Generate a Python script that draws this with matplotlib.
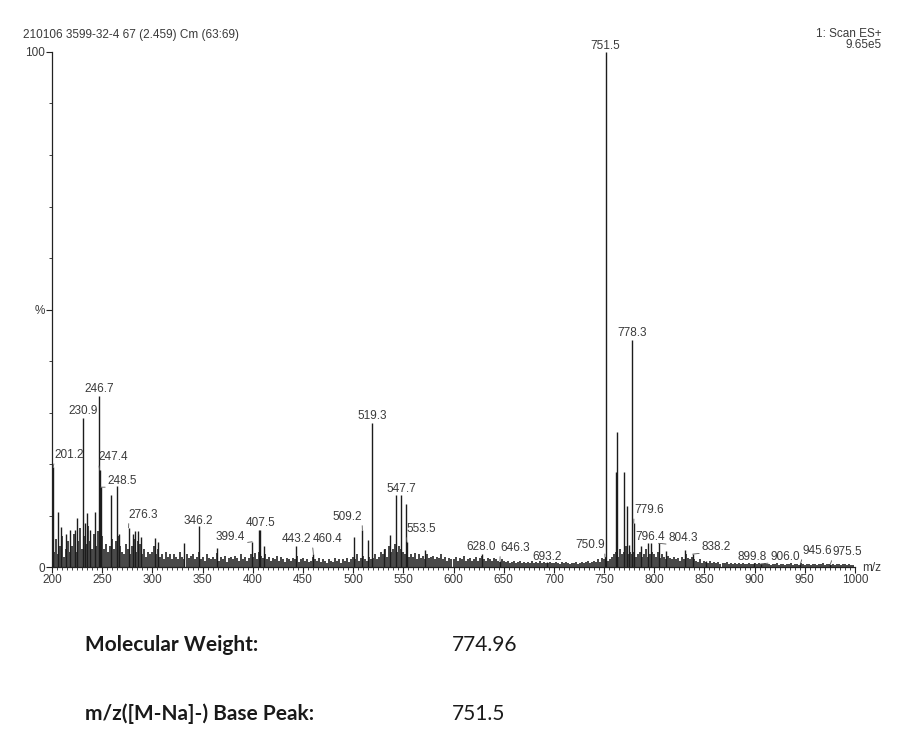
import numpy as np
import matplotlib.pyplot as plt

# background noise, one value every 2 m/z from 200 (percent of base peak)
noise_int = [
    4.5, 3.0, 5.5, 2.5, 4.0, 6.0, 2.0, 3.5, 5.0, 3.0,
    4.0, 6.5, 3.0, 5.0, 7.5, 3.5, 6.0, 4.5, 8.0, 5.0,
    3.5, 6.5, 4.0, 7.0, 5.0, 6.0, 3.5, 4.5, 3.0, 4.0,
    5.5, 3.5, 5.0, 6.0, 4.0, 3.0, 2.5, 4.5, 3.5, 2.5,
    4.0, 5.5, 3.0, 5.0, 4.5, 2.5, 3.5, 2.0, 3.0, 2.5,
    3.0, 4.0, 2.5, 3.5, 2.0, 2.5, 1.5, 3.0, 2.0, 2.5,
    1.5, 2.5, 2.0, 1.5, 3.0, 2.0, 1.5, 2.5, 1.8, 2.2,
    2.5, 1.5, 2.0, 3.0, 1.5, 2.0, 1.2, 2.5, 1.8, 1.5,
    2.0, 1.5, 2.8, 1.2, 2.0, 1.5, 2.2, 1.0, 1.8, 2.0,
    1.5, 2.2, 1.8, 1.2, 2.5, 1.5, 2.0, 1.2, 1.8, 2.5,
    2.0, 2.8, 1.5, 3.0, 2.2, 1.8, 2.5, 1.5, 2.0, 1.2,
    1.8, 1.5, 2.2, 1.2, 2.0, 1.5, 1.0, 1.8, 1.5, 1.2,
    1.8, 1.5, 2.2, 1.0, 1.5, 1.8, 1.2, 1.5, 1.0, 1.2,
    2.0, 1.5, 1.2, 1.8, 1.0, 1.5, 1.2, 0.8, 1.5, 1.2,
    1.0, 1.8, 1.2, 1.5, 0.8, 1.5, 1.2, 1.8, 1.0, 1.5,
    2.0, 1.5, 2.5, 1.2, 1.8, 2.2, 1.5, 1.2, 2.0, 1.5,
    1.8, 2.5, 1.5, 2.0, 3.0, 2.5, 3.5, 2.0, 4.0, 3.0,
    3.5, 4.5, 3.0, 4.0, 3.5, 3.0, 2.5, 3.5, 2.0, 2.5,
    2.0, 2.8, 1.5, 2.5, 1.8, 2.2, 1.5, 2.5, 1.8, 2.0,
    2.2, 1.5, 2.0, 1.8, 2.5, 1.5, 2.0, 1.2, 1.8, 1.5,
    1.5, 2.0, 1.2, 1.8, 1.5, 2.2, 1.2, 1.5, 1.8, 1.2,
    1.5, 2.0, 1.2, 1.8, 2.2, 1.5, 1.2, 1.8, 1.5, 1.2,
    1.8, 1.5, 1.2, 1.0, 1.5, 1.2, 1.0, 1.2, 0.8, 1.0,
    1.2, 0.8, 1.0, 1.2, 0.8, 1.0, 0.7, 1.0, 0.8, 1.2,
    0.8, 1.0, 0.7, 1.2, 0.8, 1.0, 0.8, 0.7, 1.0, 0.8,
    0.7, 1.0, 0.8, 0.6, 0.9, 0.7, 1.0, 0.8, 0.6, 0.8,
    0.7, 0.9, 0.6, 0.8, 1.0, 0.7, 0.9, 1.2, 0.8, 1.0,
    1.2, 0.9, 1.5, 1.0, 1.8, 1.5, 2.0, 1.2, 1.5, 2.0,
    2.5, 3.0, 2.0, 3.5, 2.5, 3.0, 4.0, 2.5, 3.0, 2.5,
    3.0, 2.0, 2.5, 3.0, 2.0, 2.5, 3.5, 2.0, 2.5, 3.0,
    2.5, 2.0, 3.0, 1.8, 2.5, 2.0, 1.5, 2.2, 1.8, 1.5,
    2.0, 1.5, 1.8, 1.2, 2.0, 1.5, 2.5, 1.8, 1.5, 2.0,
    1.5, 1.2, 1.0, 1.5, 0.8, 1.2, 1.0, 0.8, 1.2, 0.7,
    0.9, 0.7, 1.0, 0.6, 0.8, 0.7, 1.0, 0.6, 0.8, 0.5,
    0.7, 0.6, 0.8, 0.5, 0.7, 0.6, 0.5, 0.8, 0.6, 0.5,
    0.7, 0.5, 0.8, 0.6, 0.5, 0.7, 0.5, 0.6, 0.4, 0.6,
    0.5, 0.7, 0.4, 0.6, 0.5, 0.4, 0.6, 0.5, 0.7, 0.4,
    0.5, 0.6, 0.4, 0.7, 0.5, 0.4, 0.6, 0.5, 0.4, 0.6,
    0.5, 0.4, 0.6, 0.5, 0.7, 0.4, 0.5, 0.6, 0.4, 0.5,
    0.4, 0.6, 0.5, 0.4, 0.5, 0.6, 0.4, 0.5, 0.4, 0.3,
]
noise_mz = np.arange(200, 1000, 2)

# unlabelled peaks standing out of the noise
peak_mz = [206, 208.7, 214, 217.7, 222.7, 225, 233, 235, 237.7, 242.7,
           258.7, 264.5, 267, 281, 283, 286, 289, 303, 306, 332,
           364, 406, 411, 501, 514.4, 530.7, 536.6, 542.6, 552.6, 571.5,
           761.8, 762.6, 770, 772.4, 775, 787, 793.6, 812, 830.5, 851.4]
peak_int = [10.7, 7.8, 6.5, 7.2, 7.2, 9.5, 8.5, 10.4, 7.2, 10.7,
            14.0, 15.7, 6.5, 6.5, 6.9, 7.0, 5.9, 5.6, 4.9, 4.6,
            3.6, 7.2, 4.0, 5.8, 5.2, 3.4, 6.2, 14.0, 12.2, 3.3,
            18.4, 26.2, 18.4, 11.8, 4.3, 4.0, 4.6, 3.2, 3.3, 1.2]

# labelled peaks
label_text = ['201.2', '230.9', '246.7', '247.4', '248.5', '276.3', '346.2',
              '399.4', '407.5', '443.2', '460.4', '509.2', '519.3', '547.7',
              '553.5', '628.0', '646.3', '693.2', '750.9', '751.5', '778.3',
              '779.6', '796.4', '804.3', '838.2', '899.8', '906.0', '945.6',
              '975.5']
label_int = [19.4, 28.9, 33.2, 18.8, 15.5, 7.6, 8.0,
             4.9, 7.2, 4.0, 2.5, 7.2, 28.0, 14.0,
             4.9, 2.5, 1.2, 1.0, 1.9, 100.0, 44.1,
             8.5, 4.7, 4.6, 2.5, 0.8, 0.6, 0.6,
             0.6]

# label placement (pixels from peak top)
label_offsets = [(16, 12), (0, 7), (0, 7), (14, 13), (22, 6), (15, 13), (0, 5),
                 (-22, 5), (0, 7), (0, 7), (14, 15), (-15, 13), (0, 7), (0, 6),
                 (14, 13), (0, 7), (15, 13), (0, 5), (-15, 12), (0, 6), (0, 7),
                 (15, 13), (0, 6), (25, 5), (24, 7), (-2, 6), (25, 7), (17, 13),
                 (17, 12)]

txt = '#3a3a3a'
fs = 8.5
plt.rcParams['font.family'] = ['Liberation Sans', 'DejaVu Sans']

fig = plt.figure(figsize=(9.03, 7.41), dpi=100)
ax = fig.add_axes([52 / 903, 1 - 567 / 741, 803 / 903, 515 / 741])

ax.vlines(noise_mz, 0, noise_int, color='#1c1c1c', lw=1.15)
ax.vlines(peak_mz, 0, peak_int, color='#1c1c1c', lw=1.0)
label_mz = [float(s) for s in label_text]
ax.vlines(label_mz, 0, label_int, color='#1c1c1c', lw=1.0, clip_on=False)

for s, mz, h, (dx, dy) in zip(label_text, label_mz, label_int, label_offsets):
    lead = abs(dx) >= 10 or dy >= 10
    props = None
    if lead:
        props = dict(arrowstyle='-', lw=0.6, color='#555555', shrinkA=0, shrinkB=0,
                     relpos=(0, 0) if dx > 0 else (1, 0))
    ax.annotate(s, xy=(mz, h), xytext=(dx, dy), textcoords='offset pixels',
                ha='center', va='center', fontsize=fs, color=txt,
                arrowprops=props, annotation_clip=False)

ax.set_xlim(200, 1000)
ax.set_ylim(0, 100)
for side in ['top', 'right']:
    ax.spines[side].set_visible(False)
ax.spines['left'].set_color('#222222')
ax.spines['bottom'].set_color('#222222')
ax.spines['left'].set_linewidth(0.9)
ax.spines['bottom'].set_linewidth(0.9)

ax.set_xticks(np.arange(200, 1001, 50))
ax.set_xticks(np.arange(200, 1001, 5), minor=True)
ax.set_yticks([0, 50, 100], ['0', '%', '100'])
ax.set_yticks(np.arange(0, 101, 10), minor=True)
ax.tick_params(axis='both', which='major', labelsize=fs, labelcolor=txt,
               color='#222222', length=4, width=0.8, pad=1)
ax.tick_params(axis='both', which='minor', color='#222222', length=2.2, width=0.6)
fig.text(862 / 903, 1 - 568 / 741, 'm/z', fontsize=fs, color=txt,
         ha='left', va='center')

fig.text(23 / 903, 1 - 35 / 741, '210106 3599-32-4 67 (2.459) Cm (63:69)',
         fontsize=fs, color=txt, ha='left', va='center')
fig.text(882 / 903, 1 - 34 / 741, '1: Scan ES+', fontsize=fs, color=txt,
         ha='right', va='center')
fig.text(882 / 903, 1 - 45 / 741, '9.65e5', fontsize=fs, color=txt,
         ha='right', va='center')

info_font = ['Lato', 'DejaVu Sans']
fig.text(85 / 903, 1 - 645 / 741, 'Molecular Weight:', fontsize=15, fontweight='bold',
         family=info_font, color='#1a1a1a', ha='left', va='center')
fig.text(452 / 903, 1 - 645 / 741, '774.96', fontsize=15, family=info_font,
         color='#1a1a1a', ha='left', va='center')
fig.text(85 / 903, 1 - 714 / 741, 'm/z([M-Na]-) Base Peak:', fontsize=15,
         fontweight='bold', family=info_font, color='#1a1a1a', ha='left', va='center')
fig.text(452 / 903, 1 - 714 / 741, '751.5', fontsize=15, family=info_font,
         color='#1a1a1a', ha='left', va='center')

fig.savefig('out.png', dpi=100)
